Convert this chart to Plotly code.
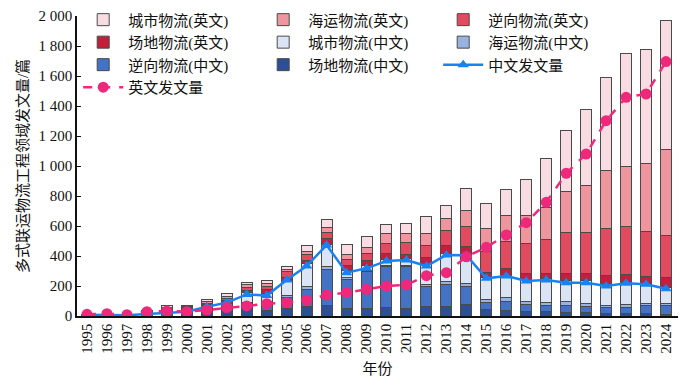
import plotly.graph_objects as go

years = [str(y) for y in range(1995, 2025)]

# Chinese categories (bottom of stack)
site_cn = [3, 3, 2, 8, 15, 15, 25, 29, 44, 40, 51, 62, 67, 51, 51, 58, 51, 62, 62, 80, 44, 40, 33, 29, 25, 25, 20, 20, 20, 10]
reverse_cn = [2, 2, 1, 4, 5, 5, 15, 40, 40, 51, 73, 116, 244, 195, 243, 270, 278, 135, 151, 116, 45, 56, 47, 38, 45, 40, 35, 40, 50, 60]
sea_cn = [1, 1, 1, 1, 2, 3, 5, 4, 5, 5, 16, 18, 18, 10, 8, 8, 8, 15, 16, 22, 22, 28, 16, 22, 25, 20, 18, 20, 15, 15]
city_cn = [2, 2, 1, 2, 3, 5, 15, 11, 67, 55, 95, 155, 151, 50, 38, 42, 45, 138, 191, 192, 144, 146, 149, 161, 140, 150, 139, 145, 130, 105]
# English categories (top of stack)
site_en = [1, 1, 1, 10, 20, 20, 15, 18, 17, 27, 23, 22, 38, 34, 33, 40, 31, 41, 53, 52, 34, 48, 39, 34, 49, 49, 55, 53, 47, 68]
reverse_en = [1, 1, 1, 5, 6, 7, 10, 16, 16, 22, 38, 34, 40, 38, 45, 66, 76, 82, 100, 134, 140, 178, 200, 227, 271, 271, 317, 318, 300, 280]
sea_en = [1, 1, 1, 5, 8, 8, 10, 15, 18, 18, 15, 22, 33, 29, 40, 63, 62, 78, 78, 106, 155, 171, 189, 213, 274, 318, 389, 404, 456, 573]
city_en = [1, 1, 1, 5, 10, 10, 12, 18, 15, 18, 22, 38, 53, 71, 71, 64, 67, 111, 89, 149, 163, 177, 234, 327, 407, 507, 618, 747, 760, 858]

# totals (lines)
total_cn = [8, 8, 5, 13, 20, 29, 62, 89, 144, 136, 240, 333, 473, 289, 318, 367, 373, 333, 407, 405, 251, 267, 233, 240, 222, 222, 200, 218, 211, 182]
total_en = [11, 15, 9, 29, 33, 29, 40, 56, 67, 82, 89, 107, 140, 156, 178, 200, 207, 269, 289, 395, 458, 540, 622, 758, 951, 1080, 1302, 1458, 1480, 1696]

bar_series = [
    ("场地物流(中文)", site_cn, "#2d4f96", 8),
    ("逆向物流(中文)", reverse_cn, "#4472c4", 7),
    ("海运物流(中文)", sea_cn, "#98b3e0", 6),
    ("城市物流(中文)", city_cn, "#dbe4f4", 5),
    ("场地物流(英文)", site_en, "#c41e3a", 4),
    ("逆向物流(英文)", reverse_en, "#e24a60", 3),
    ("海运物流(英文)", sea_en, "#ef959d", 2),
    ("城市物流(英文)", city_en, "#f9dce1", 1),
]

FONT = "Liberation Serif, Times New Roman, Noto Sans CJK SC, serif"

fig = go.Figure()
for name, vals, color, rank in bar_series:
    fig.add_trace(go.Bar(
        x=years, y=vals, name=name, legendrank=rank,
        marker=dict(color=color, line=dict(color="#4a4a4a", width=1)),
        width=0.55,
    ))

fig.add_trace(go.Scatter(
    x=years, y=total_cn, name="中文发文量", legendrank=9,
    mode="lines+markers",
    line=dict(color="#1a82f0", width=2.5),
    marker=dict(symbol="triangle-up", size=10, color="#1a82f0"),
))
fig.add_trace(go.Scatter(
    x=years, y=total_en, name="英文发文量", legendrank=10,
    mode="lines+markers",
    line=dict(color="#f0287c", width=2.5, dash="dash"),
    marker=dict(symbol="circle", size=11, color="#f0287c"),
))

fig.update_layout(
    width=700, height=386,
    barmode="stack",
    separators=". ",
    margin=dict(l=77, r=22, t=16, b=70, autoexpand=False),
    paper_bgcolor="white", plot_bgcolor="white",
    font=dict(family=FONT, size=15, color="#111"),
    legend=dict(
        orientation="h", x=0.002, y=1.042, xanchor="left", yanchor="top",
        entrywidth=125, entrywidthmode="pixels",
        bgcolor="rgba(0,0,0,0)", font=dict(size=15, family=FONT),
        traceorder="normal", tracegroupgap=0, itemwidth=40,
    ),
    xaxis=dict(
        type="category", range=[-0.5, 29.6],
        tickangle=-90, showline=True, linecolor="#111", linewidth=1.5,
        ticks="", tickfont=dict(size=15, family=FONT),
        title=dict(text="年份", font=dict(size=15, family=FONT), standoff=11),
        showgrid=False, zeroline=False,
    ),
    yaxis=dict(
        range=[0, 2000], dtick=200, tickformat=",d",
        showline=True, linecolor="#111", linewidth=1.5,
        ticks="inside", ticklen=4, tickcolor="#111",
        tickfont=dict(size=15, family=FONT),
        title=dict(text="多式联运物流工程领域发文量/篇", font=dict(size=15, family=FONT), standoff=6),
        showgrid=False, zeroline=False,
    ),
)

fig.write_html("out.html", config={"displayModeBar": False},
               post_script="document.body.style.margin='0';")
